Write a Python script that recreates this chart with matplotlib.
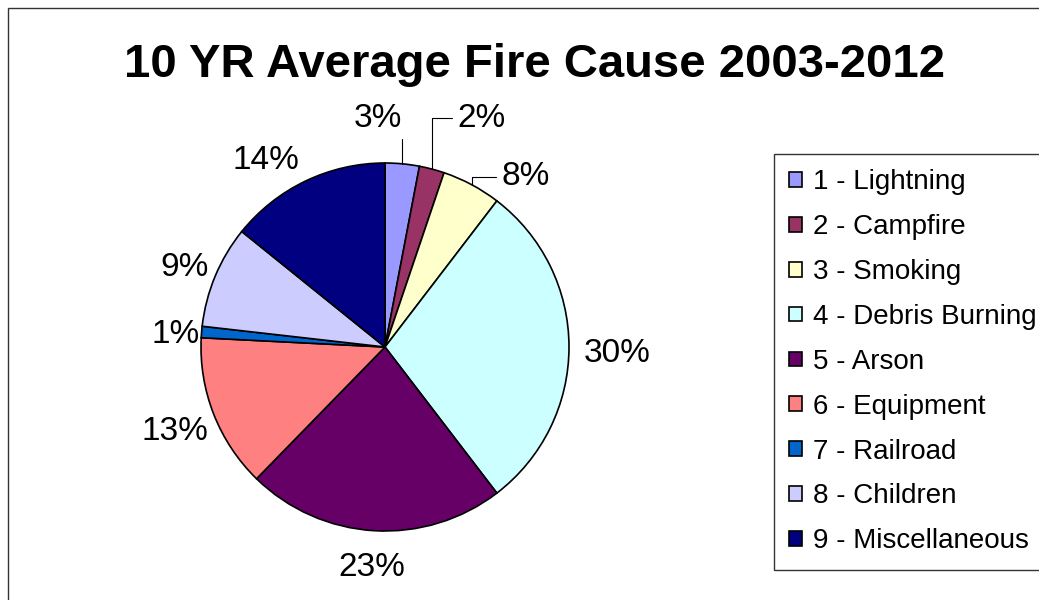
import matplotlib.pyplot as plt
import numpy as np
from matplotlib.patches import Rectangle

# 10 year average fire causes (slice shares, labels as printed)
causes = ['1 - Lightning', '2 - Campfire', '3 - Smoking', '4 - Debris Burning',
          '5 - Arson', '6 - Equipment', '7 - Railroad', '8 - Children',
          '9 - Miscellaneous']
shares = [3.0, 2.2, 5.2, 29.2, 22.7, 13.5, 1.0, 9.0, 14.2]
pct_labels = ['3%', '2%', '8%', '30%', '23%', '13%', '1%', '9%', '14%']
colors = ['#9999FF', '#993366', '#FFFFCC', '#CCFFFF', '#660066',
          '#FF8080', '#0066CC', '#CCCCFF', '#000080']

# label placement: distance from centre (in radii) and turn from mid-angle (deg, clockwise)
label_dist = [1.245, 1.35, 1.20, 1.26, 1.20, 1.23, 1.14, 1.17, 1.20]
label_turn = [-7.1, 8.2, 11.5, 1.5, 0.0, -0.6, -1.2, -1.0, -7.0]
leader = [True, True, True, False, False, False, False, False, False]

plt.rcParams['font.family'] = ['Liberation Sans', 'DejaVu Sans']

fig = plt.figure(figsize=(10.39, 6), dpi=100)
ax = fig.add_axes([0, 0, 1, 1])

cx, cy, r = 385, 253, 184
wedges, _ = ax.pie(shares, colors=colors, startangle=90, counterclock=False,
                   center=(cx, cy), radius=r, frame=True,
                   wedgeprops=dict(edgecolor='black', linewidth=1.2))
ax.set_xlim(0, 1039)
ax.set_ylim(0, 600)
ax.set_aspect('equal')
ax.axis('off')

for w, lab, d, turn, lead in zip(wedges, pct_labels, label_dist, label_turn, leader):
    mid = np.deg2rad((w.theta1 + w.theta2) / 2)
    tx = np.deg2rad((w.theta1 + w.theta2) / 2 - turn)
    pos = (cx + d * r * np.cos(tx), cy + d * r * np.sin(tx))
    if lead:
        edge = (cx + r * np.cos(mid), cy + r * np.sin(mid))
        side = 1.0 if pos[0] < edge[0] else 0.0
        ax.annotate(lab, xy=edge, xytext=pos, ha='center', va='center',
                    fontsize=24,
                    arrowprops=dict(arrowstyle='-', color='black', lw=0.8,
                                    shrinkA=2, shrinkB=0, relpos=(side, 0.5),
                                    connectionstyle='angle,angleA=0,angleB=90,rad=0'))
    else:
        ax.text(pos[0], pos[1], lab, ha='center', va='center', fontsize=24)

fig.text(535 / 1039, 1 - 65 / 600, '10 YR Average Fire Cause 2003-2012',
         ha='center', va='center', fontsize=34, fontweight='bold')

leg = fig.legend(wedges, causes, loc='upper left',
                 bbox_to_anchor=(774 / 1039, 1 - 154 / 600),
                 fontsize=20, frameon=True, fancybox=False, edgecolor='black',
                 handlelength=0.44, handleheight=0.44, handletextpad=0.4,
                 labelspacing=0.68, borderpad=0.55, borderaxespad=0)
leg.get_frame().set_linewidth(1.0)

# outer chart-area border
fig.patches.append(Rectangle((8 / 1039, -0.1), 1.2, 1 - 8 / 600 + 0.1,
                             transform=fig.transFigure, fill=False,
                             edgecolor='#333333', linewidth=1.0))

fig.savefig('out.png', dpi=100)
